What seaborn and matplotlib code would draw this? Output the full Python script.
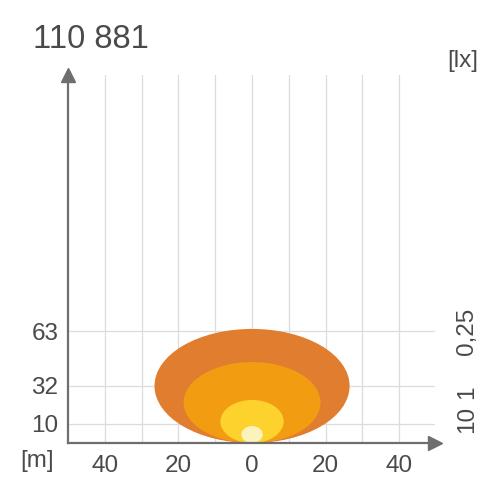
import numpy as np
import pandas as pd
import matplotlib
matplotlib.use("Agg")
import matplotlib.pyplot as plt
import seaborn as sns
from matplotlib.patches import Ellipse
from matplotlib.transforms import blended_transform_factory

title = "110 881"
x_ticks = [-40, -20, 0, 20, 40]
x_labels = ["40", "20", "0", "20", "40"]
x_minor = [-30, -10, 10, 30]
y_ticks = [5.2, 15.5, 30.4]
y_labels = ["10", "32", "63"]
lux_pos = [6.5, 13.9, 30.2]
lux_labels = ["10", "1", "0,25"]

# light cones: half width (m) and reach (chart units), outer to inner
half_widths = [26.5, 18.6, 8.6, 2.9]
reaches = [31.0, 22.0, 11.7, 4.6]
colors = ["#e07d2e", "#f29c12", "#fdd22d", "#fcf2be"]

sns.set_theme(style="white")
plt.rcParams['font.family'] = ['Liberation Sans', 'DejaVu Sans']

text_color = "#4a4a4a"
axis_color = "#6e6e6e"
grid_color = "#dcdcdc"
fs = 17.5

fig = plt.figure(figsize=(5, 5), dpi=100)
ax = fig.add_axes([0.136, 0.114, 0.734, 0.736])

for w, h, c in zip(half_widths, reaches, colors):
    ax.add_patch(Ellipse((0, h / 2), 2 * w, h, facecolor=c, edgecolor="none", zorder=2))

ax.set_xlim(-50, 49.7)
ax.set_ylim(0, 100)
ax.set_xticks(x_ticks)
ax.set_xticklabels(x_labels)
ax.set_xticks(x_minor, minor=True)
ax.set_yticks(y_ticks)
ax.set_yticklabels(y_labels)

ax.grid(True, which="both", axis="x", color=grid_color, lw=0.9)
ax.grid(True, which="major", axis="y", color=grid_color, lw=0.9)
ax.set_axisbelow(True)

sns.despine(ax=ax)
for s in ["left", "bottom"]:
    ax.spines[s].set_color(axis_color)
    ax.spines[s].set_linewidth(1.6)
    ax.spines[s].set_zorder(3)

ax.tick_params(axis="x", which="both", length=0, pad=9, labelsize=fs, labelcolor=text_color)
ax.tick_params(axis="y", length=0, pad=7, labelsize=fs, labelcolor=text_color)

# arrow heads
ax.plot(0, 1, marker="^", ms=10, color=axis_color, transform=ax.transAxes, clip_on=False, zorder=4)
ax.plot(1, 0, marker=">", ms=10, color=axis_color, transform=ax.transAxes, clip_on=False, zorder=4)

trans = blended_transform_factory(ax.transAxes, ax.transData)
for y, lab in zip(lux_pos, lux_labels):
    ax.text(1.087, y, lab, transform=trans, rotation=90, ha="center", va="center",
            fontsize=fs, color=text_color)

fig.text(0.066, 0.92, title, ha="left", va="center", fontsize=23.5, color=text_color)
fig.text(0.926, 0.877, "[lx]", ha="center", va="center", fontsize=fs, color=text_color)
fig.text(0.074, 0.078, "[m]", ha="center", va="center", fontsize=fs, color=text_color)

fig.savefig("out.png", dpi=100)
